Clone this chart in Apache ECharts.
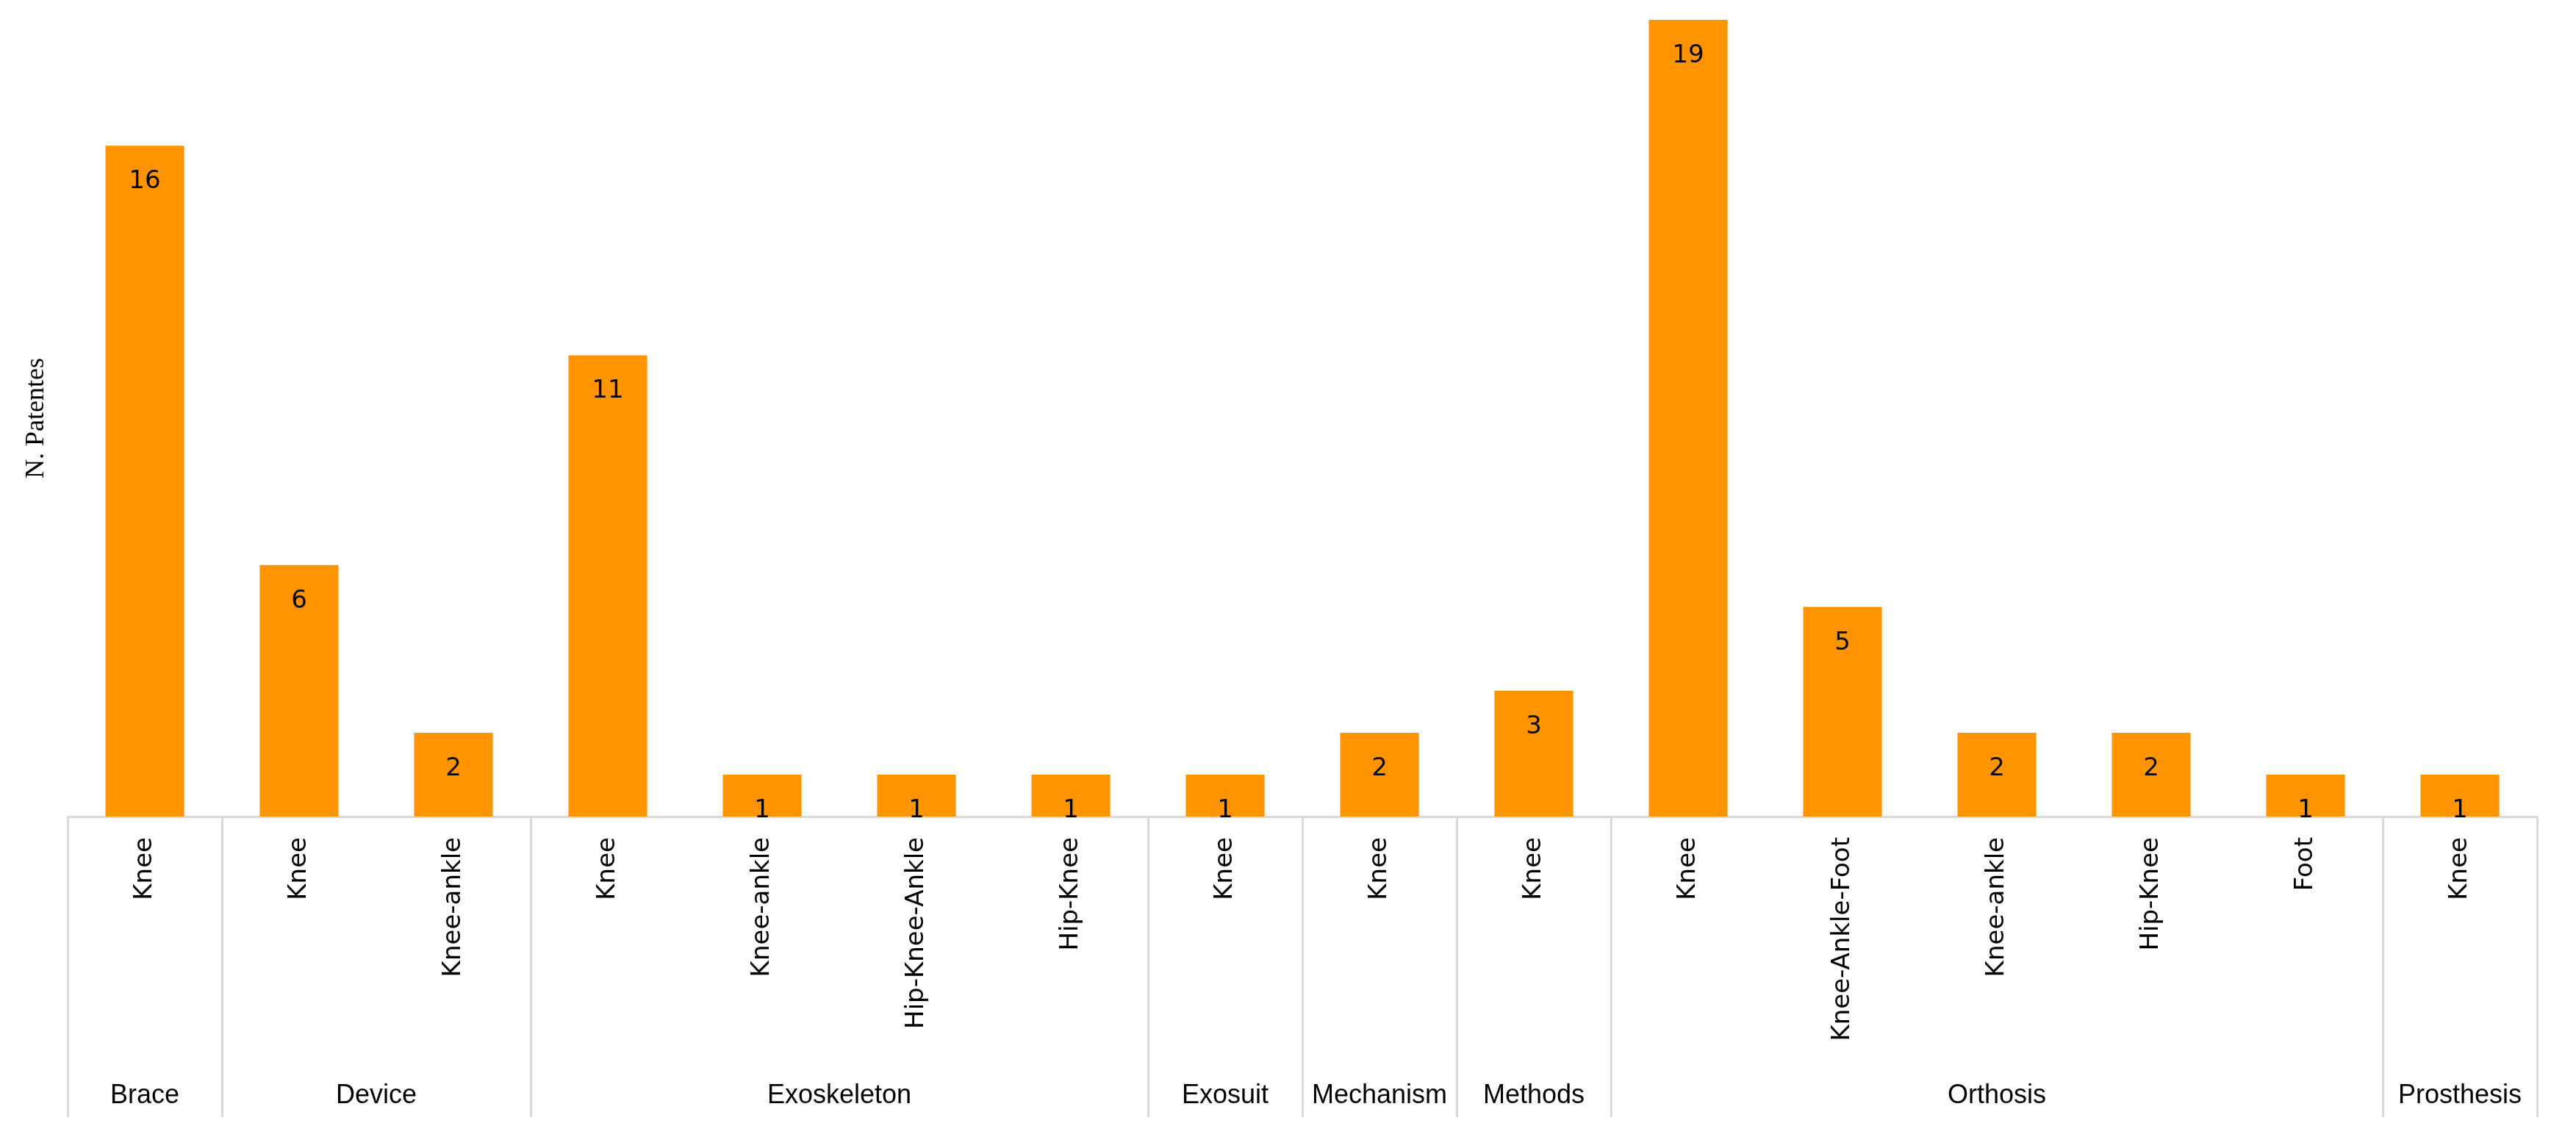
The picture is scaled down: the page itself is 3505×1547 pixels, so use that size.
<!DOCTYPE html>
<html>
<head>
<meta charset="utf-8">
<script src="https://cdn.jsdelivr.net/npm/echarts@6/dist/echarts.min.js"></script>
<style>html,body{margin:0;padding:0;background:#fff}#chart{width:3505px;height:1547px}</style>
</head>
<body>
<div id="chart"></div>
<script>
const categorias = ['Knee', 'Knee', 'Knee-ankle', 'Knee', 'Knee-ankle', 'Hip-Knee-Ankle', 'Hip-Knee', 'Knee', 'Knee', 'Knee',
    'Knee', 'Knee-Ankle-Foot', 'Knee-ankle', 'Hip-Knee', 'Foot', 'Knee'];
const patentes = [16, 6, 2, 11, 1, 1, 1, 1, 2, 3, 19, 5, 2, 2, 1, 1];
const grupos = ['Brace', 'Device', 'Exoskeleton', 'Exosuit', 'Mechanism', 'Methods', 'Orthosis', 'Prosthesis'];
const tamGrupos = [1, 2, 4, 1, 1, 1, 5, 1];

// limites y centros de cada grupo en el eje
let limites = [0];
let centros = [];
for (let i = 0; i < tamGrupos.length; i++) {
    let ini = limites[limites.length - 1];
    centros.push(ini + tamGrupos[i] / 2);
    limites.push(ini + tamGrupos[i]);
}

const chart = echarts.init(document.getElementById('chart'));
chart.setOption({
    animation: false,
    grid: {left: 92, right: 53, top: 27, bottom: 436, containLabel: false},
    xAxis: [
        {
            type: 'category',
            data: categorias,
            axisLine: {lineStyle: {color: '#d9d9d9', width: 3}},
            axisTick: {show: false},
            axisLabel: {
                rotate: 90, interval: 0, margin: 28,
                fontFamily: 'DejaVu Sans', fontSize: 34, color: '#000'
            }
        },
        {
            type: 'value',
            min: 0, max: 16,
            position: 'bottom',
            axisLine: {show: false},
            splitLine: {show: false},
            axisTick: {
                show: true, inside: false, length: 409,
                customValues: limites,
                lineStyle: {color: '#d9d9d9', width: 3}
            },
            axisLabel: {
                customValues: centros,
                margin: 362,
                fontFamily: 'Liberation Sans Narrow, Arial Narrow, sans-serif',
                fontSize: 36, color: '#000',
                formatter: function (v) {
                    let idx = centros.indexOf(v);
                    return idx >= 0 ? grupos[idx] : '';
                }
            }
        }
    ],
    yAxis: {
        type: 'value',
        min: 0, max: 19,
        name: 'N. Patentes',
        nameLocation: 'middle',
        nameGap: 24,
        nameTextStyle: {fontFamily: 'Liberation Serif', fontSize: 36, color: '#000'},
        axisLine: {show: false},
        axisTick: {show: false},
        axisLabel: {show: false},
        splitLine: {show: false}
    },
    series: {
        type: 'bar',
        data: patentes,
        barCategoryGap: '49%',
        itemStyle: {color: '#ff9300'},
        label: {
            show: true, position: 'insideTop', distance: 32,
            fontFamily: 'DejaVu Sans', fontSize: 34, color: '#000'
        }
    }
});
</script>
</body>
</html>
